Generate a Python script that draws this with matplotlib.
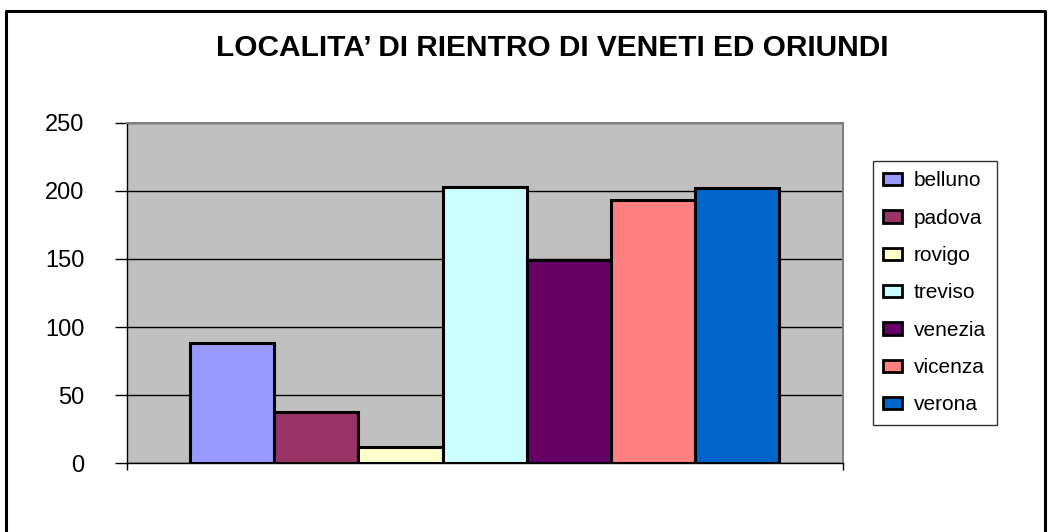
import numpy as np
import matplotlib
matplotlib.use('Agg')
import matplotlib.pyplot as plt
from matplotlib.lines import Line2D

plt.rcParams['font.family'] = ['Liberation Sans', 'DejaVu Sans']

###=========== data ===========
provinces = ['belluno', 'padova', 'rovigo', 'treviso', 'venezia', 'vicenza', 'verona']
counts = [88, 38, 12, 203, 149, 193, 202]
colors = ['#9999FF', '#993366', '#FFFFCC', '#CCFFFF', '#660066', '#FF8080', '#0066CC']
yticks = [0, 50, 100, 150, 200, 250]
title = 'LOCALITA\u2019 DI RIENTRO DI VENETI ED ORIUNDI'

###=========== figure ===========
W, H = 1048, 532
fig = plt.figure(figsize=(W / 100, H / 100), dpi=100)
fig.patch.set_facecolor('white')

# outer chart border (runs off the bottom edge)
x0, x1 = 6 / W, 1045 / W
y1 = 1 - 11 / H
fig.add_artist(Line2D([x0, x0, x1, x1], [-0.05, y1, y1, -0.05],
                      transform=fig.transFigure, color='black', lw=2.2))

ax = fig.add_axes([126.7 / W, 1 - 463.3 / H, 716 / W, 340.6 / H])
ax.set_facecolor('#C0C0C0')

x = np.arange(len(provinces))
bars = ax.bar(x, counts, width=1.0, color=colors, edgecolor='black',
              linewidth=2.2, zorder=3, label=provinces)

ax.set_xlim(-1.252, 7.252)
ax.set_ylim(0, 250)
ax.set_yticks(yticks)
ax.set_yticklabels([str(v) for v in yticks], fontsize=17)
ax.set_xticks([-1.252, 7.252])
ax.set_xticklabels(['', ''])
ax.tick_params(axis='y', direction='out', length=8.6, width=1, pad=22, color='black')
ax.tick_params(axis='x', direction='out', length=5, width=1, color='black')
ax.yaxis.grid(True, color='black', lw=1, zorder=1)
ax.set_axisbelow(True)

for s in ['top', 'right']:
    ax.spines[s].set_color('#808080')
    ax.spines[s].set_linewidth(1.5)
for s in ['left', 'bottom']:
    ax.spines[s].set_color('black')
    ax.spines[s].set_linewidth(1)

fig.text(552 / W, 1 - 48 / H, title, ha='center', va='center',
         fontsize=21.5, fontweight='bold')

###=========== legend ===========
leg = fig.legend(bars, provinces, loc='upper left',
                 bbox_to_anchor=(873 / W, 1 - 161 / H), fontsize=15,
                 frameon=True, fancybox=False, edgecolor='black',
                 handlelength=0.87, handleheight=0.53, handletextpad=0.6,
                 labelspacing=0.88, borderpad=0.5, borderaxespad=0)
leg.get_frame().set_linewidth(1)
for h in leg.legend_handles:
    h.set_linewidth(2)

fig.savefig('out.png', dpi=100)
